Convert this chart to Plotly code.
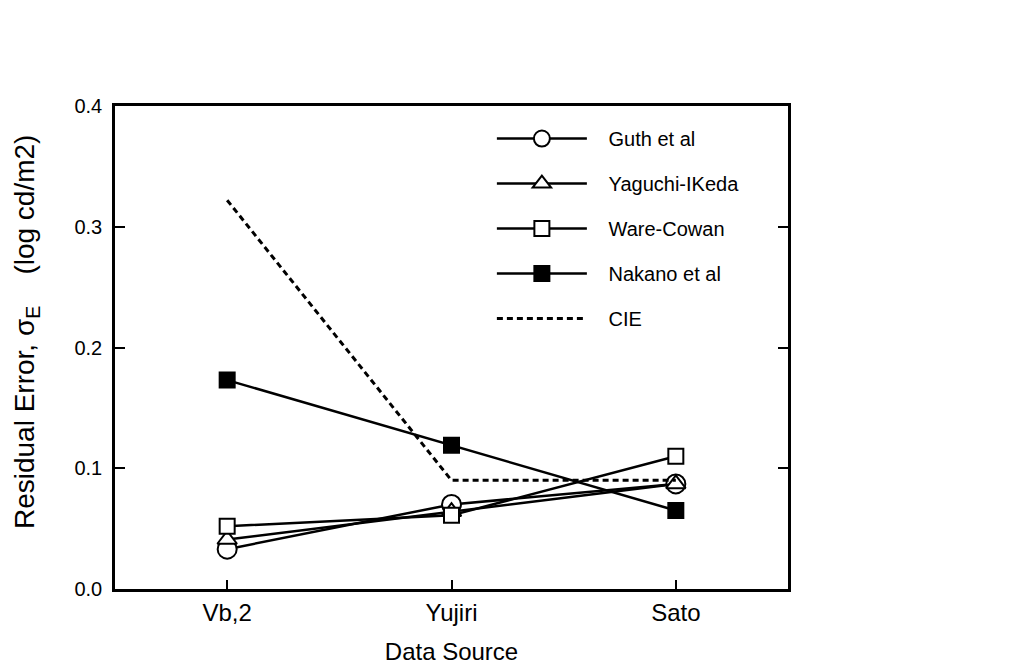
import plotly.graph_objects as go

categories = ["Vb,2", "Yujiri", "Sato"]
guth = [0.033, 0.070, 0.087]
yaguchi = [0.041, 0.064, 0.087]
ware = [0.052, 0.061, 0.110]
nakano = [0.173, 0.119, 0.065]
cie = [0.322, 0.090, 0.090]

FONT = "Liberation Sans, Arial, Helvetica, sans-serif"
NB = "\u00a0"
fig = go.Figure()

series = [
    ("Guth et al", guth, "circle", "white", 19),
    ("Yaguchi-IKeda", yaguchi, "triangle-up", "white", 17),
    ("Ware-Cowan", ware, "square", "white", 15),
    ("Nakano et al", nakano, "square", "black", 15),
]
for name, vals, sym, fill, size in series:
    fig.add_trace(go.Scatter(
        x=categories, y=vals, name=NB * 3 + name, mode="lines+markers",
        line=dict(color="black", width=2.5),
        marker=dict(symbol=sym, size=size, color=fill,
                    line=dict(color="black", width=2)),
        legendgroup=name,
    ))
fig.add_trace(go.Scatter(
    x=categories, y=cie, name=NB * 3 + "CIE", mode="lines",
    line=dict(color="black", width=3, dash="6px,4px"), legendgroup="CIE",
))

fig.update_layout(
    width=1002, height=660,
    margin=dict(l=107, r=222, t=98, b=79),
    paper_bgcolor="white", plot_bgcolor="white",
    font=dict(family=FONT, color="black", size=18),
    showlegend=True,
    legend=dict(x=0.56, y=0.973, xanchor="left", yanchor="top",
                bgcolor="rgba(0,0,0,0)", font=dict(size=20, family=FONT),
                tracegroupgap=16, itemwidth=90),
    xaxis=dict(
        type="category", range=[-0.5, 2.5], showgrid=False, automargin=False,
        showline=True, linecolor="black", linewidth=2.5, mirror=True,
        ticks="inside", ticklen=9, tickwidth=2, tickcolor="black",
        tickfont=dict(size=24),
        title=dict(text="Data Source", font=dict(size=24), standoff=19),
    ),
    yaxis=dict(
        range=[0, 0.4], tickvals=[0, 0.1, 0.2, 0.3, 0.4], automargin=False,
        ticktext=["0.0", "0.1", "0.2", "0.3", "0.4"], showgrid=False, zeroline=False,
        showline=True, linecolor="black", linewidth=2.5, mirror="ticks",
        ticks="inside", ticklen=10, tickwidth=2, tickcolor="black",
        tickfont=dict(size=20), ticklabelstandoff=6,
    ),
    annotations=[dict(
        text="Residual Error," + NB + "σ<sub>E</sub>" + NB * 4 + "(log cd/m2)",
        xref="paper", yref="paper", x=-0.1315, y=0.533,
        xanchor="center", yanchor="middle", textangle=-90, showarrow=False,
        font=dict(size=28, family=FONT),
    )],
)

fig.write_html("out.html")
